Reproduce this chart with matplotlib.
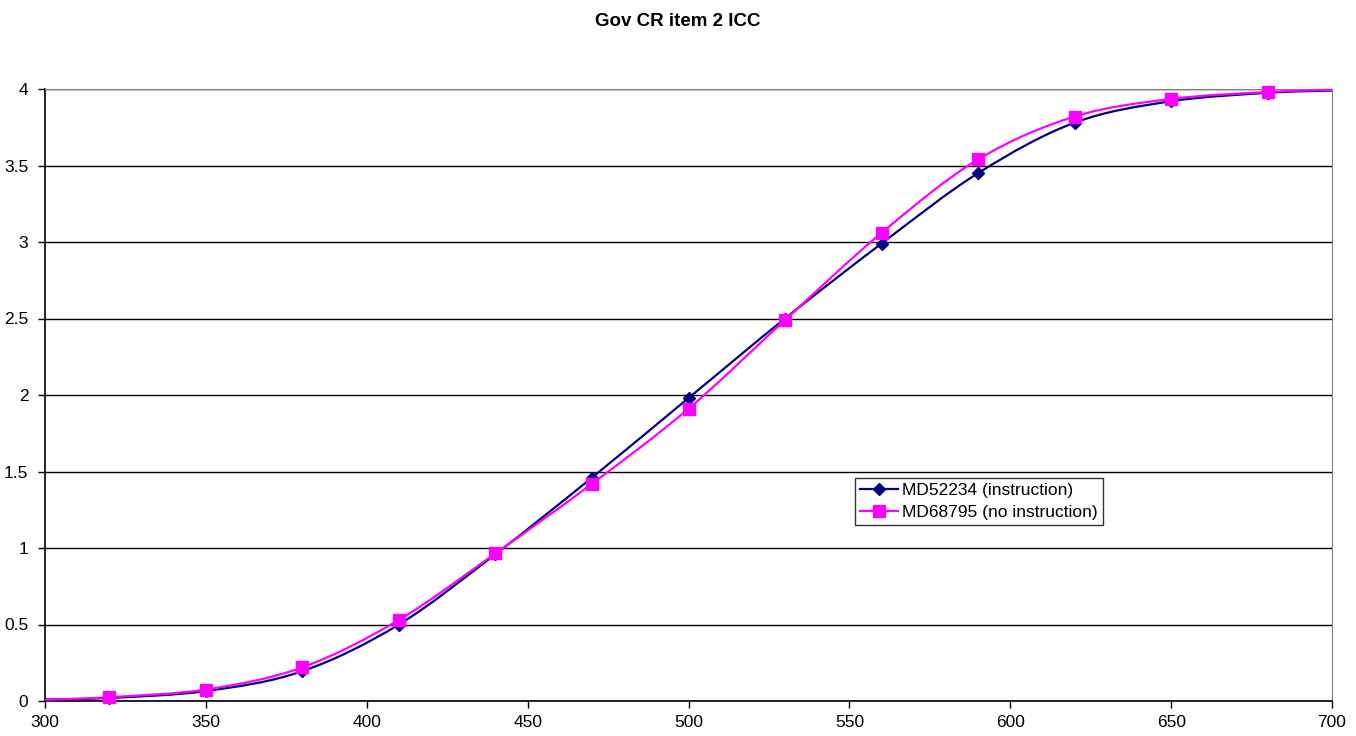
import numpy as np
import matplotlib.pyplot as plt
from matplotlib.path import Path
from matplotlib.patches import PathPatch

plt.rcParams['font.family'] = ['Liberation Sans', 'DejaVu Sans']

# ability scale points and expected scores
theta = [300, 320, 350, 380, 410, 440, 470, 500, 530, 560, 590, 620, 650, 680, 700]
score_instr = [0.01, 0.02, 0.065, 0.195, 0.50, 0.96, 1.46, 1.98, 2.50, 2.99, 3.45, 3.78, 3.92, 3.975, 3.99]
score_noinstr = [0.008, 0.025, 0.075, 0.22, 0.53, 0.965, 1.42, 1.91, 2.49, 3.06, 3.54, 3.82, 3.935, 3.98, 3.995]
marked = slice(1, -1)


def smooth_path(x, y, tension=1/6.):
    # piecewise cubic bezier through the points (spreadsheet-style smoothing)
    x = np.asarray(x, float)
    y = np.asarray(y, float)
    n = len(x)
    verts = [(x[0], y[0])]
    codes = [Path.MOVETO]
    for i in range(n - 1):
        i0 = max(i - 1, 0)
        i3 = min(i + 2, n - 1)
        c1 = (x[i] + (x[i + 1] - x[i0]) * tension, y[i] + (y[i + 1] - y[i0]) * tension)
        c2 = (x[i + 1] - (x[i3] - x[i]) * tension, y[i + 1] - (y[i3] - y[i]) * tension)
        verts += [c1, c2, (x[i + 1], y[i + 1])]
        codes += [Path.CURVE4] * 3
    return Path(verts, codes)


fig = plt.figure(figsize=(13.56, 7.36), dpi=100)
ax = fig.add_axes([45/1356, 1 - 701/736, (1332 - 45)/1356, (701 - 89)/736])

for ys, col, mk, ms, lab in [(score_instr, '#000080', 'D', 6.5, 'MD52234 (instruction)'),
                             (score_noinstr, '#FF00FF', 's', 8, 'MD68795 (no instruction)')]:
    ax.add_patch(PathPatch(smooth_path(theta, ys), facecolor='none', edgecolor=col,
                           lw=1.6, zorder=3, clip_on=False))
    ax.plot(theta[marked], ys[marked], linestyle='none', marker=mk, ms=ms,
            color=col, zorder=4, clip_on=False)
    ax.plot([], [], color=col, lw=1.6, marker=mk, ms=ms, label=lab)

ax.set_xlim(300, 700)
ax.set_ylim(0, 4)
ax.set_xticks(np.arange(300, 701, 50))
ax.set_yticks(np.arange(0, 4.01, 0.5))
ax.set_yticklabels(['0', '0.5', '1', '1.5', '2', '2.5', '3', '3.5', '4'])
ax.yaxis.grid(True, color='black', lw=1)
ax.set_axisbelow(True)
ax.tick_params(labelsize=12.5, length=5, color='black', width=1)
ax.tick_params(axis='y', pad=7)
ax.tick_params(axis='x', pad=5)
for s in ['top', 'right']:
    ax.spines[s].set_color('#808080')
for s in ['left', 'bottom']:
    ax.spines[s].set_color('black')
    ax.spines[s].set_linewidth(1.2)

fig.text(0.5, 1 - 22/736, 'Gov CR item 2 ICC', ha='center', va='center',
         fontsize=13.5, fontweight='bold')

leg = ax.legend(loc='upper left', bbox_to_anchor=((855 - 45)/1287, 1 - (478 - 89)/612),
                fontsize=12.5, frameon=True, fancybox=False, borderaxespad=0,
                handlelength=2.2, handletextpad=0.2, borderpad=0.3, labelspacing=0.35)
leg.get_frame().set_edgecolor('black')
leg.get_frame().set_linewidth(1)

fig.savefig('out.png', dpi=100)
